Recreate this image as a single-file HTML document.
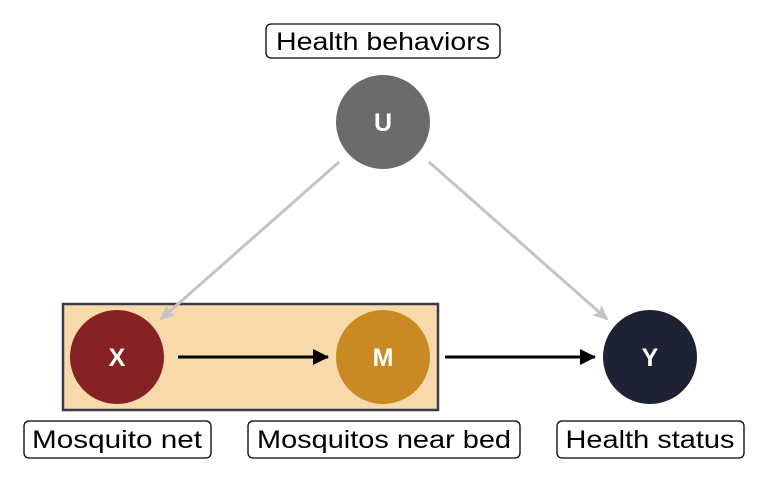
<!DOCTYPE html>
<html><head><style>
html,body{margin:0;padding:0;background:#fff;width:768px;height:480px;overflow:hidden}
</style></head><body>
<svg width="768" height="480" xmlns="http://www.w3.org/2000/svg" font-family="Liberation Sans, DejaVu Sans, sans-serif">
<defs>
<marker id="ag" markerWidth="16" markerHeight="14" refX="14" refY="7" orient="auto" markerUnits="userSpaceOnUse"><path d="M0,0 L16,7 L0,14 L4,7 Z" fill="#c4c4c4"/></marker>
<marker id="ab" markerWidth="16" markerHeight="16" refX="15" refY="8" orient="auto" markerUnits="userSpaceOnUse"><path d="M0,0 L16,8 L0,16 Z" fill="#000"/></marker>
</defs>
<rect x="63" y="304" width="375" height="106" fill="#f8d9a9" stroke="#3a3b4c" stroke-width="2.5"/>
<line x1="339" y1="162" x2="161" y2="319" stroke="#c4c4c4" stroke-width="3" marker-end="url(#ag)"/>
<line x1="429" y1="162" x2="607" y2="319" stroke="#c4c4c4" stroke-width="3" marker-end="url(#ag)"/>
<line x1="178" y1="357" x2="328" y2="357" stroke="#000" stroke-width="3" marker-end="url(#ab)"/>
<line x1="445" y1="357" x2="595" y2="357" stroke="#000" stroke-width="3" marker-end="url(#ab)"/>
<circle cx="383" cy="122" r="47" fill="#6b6b6b"/>
<circle cx="117" cy="357" r="47" fill="#862223"/>
<circle cx="383" cy="357" r="47" fill="#c98a23"/>
<circle cx="650" cy="357" r="47" fill="#1f2235"/>
<g fill="#fff" font-weight="bold" font-size="25" text-anchor="middle">
<text x="383" y="131">U</text><text x="117" y="366">X</text><text x="383" y="366">M</text><text x="650" y="366">Y</text>
</g>
<g fill="#fff" stroke="#000" stroke-width="1.3">
<rect x="266" y="24" width="234" height="34" rx="5"/>
<rect x="24" y="421" width="187" height="37" rx="5"/>
<rect x="248" y="421" width="272" height="37" rx="5"/>
<rect x="557" y="421" width="187" height="37" rx="5"/>
</g>
<g fill="#000" font-size="25" text-anchor="middle">
<text x="383" y="50" textLength="214" lengthAdjust="spacingAndGlyphs">Health behaviors</text>
<text x="117" y="448" textLength="170" lengthAdjust="spacingAndGlyphs">Mosquito net</text>
<text x="384" y="448" textLength="254" lengthAdjust="spacingAndGlyphs">Mosquitos near bed</text>
<text x="650" y="448" textLength="169" lengthAdjust="spacingAndGlyphs">Health status</text>
</g>
</svg>
</body></html>
